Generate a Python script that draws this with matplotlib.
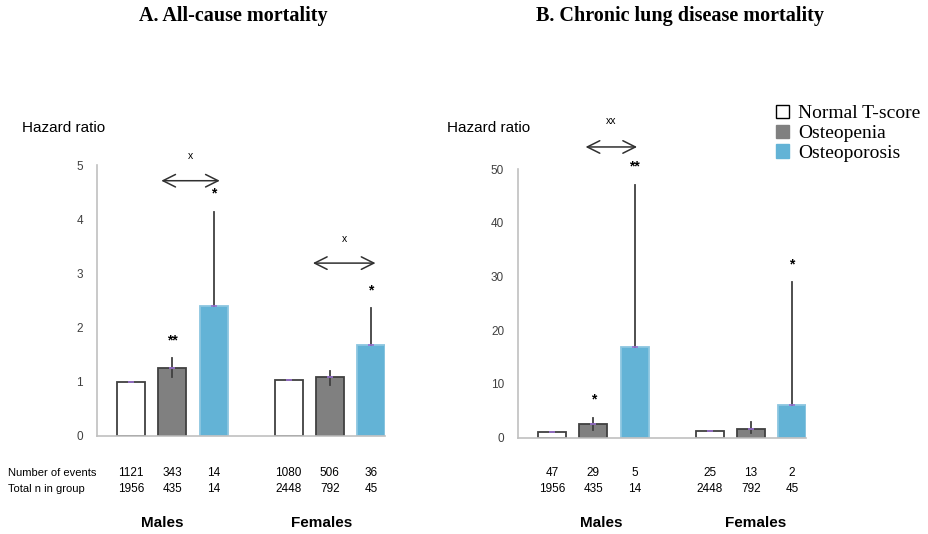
import matplotlib
matplotlib.use("Agg")
import matplotlib.pyplot as plt
from matplotlib.patches import Patch
import numpy as np

plt.rcParams['font.family'] = ['Liberation Sans', 'DejaVu Sans']

# ---------------- data ----------------
categories = ["Normal T-score", "Osteopenia", "Osteoporosis"]
groups = ["Males", "Females"]

# Panel A: all-cause mortality (males then females)
hr_a = [1.0, 1.26, 2.39, 1.03, 1.08, 1.67]
ci_low_a = [1.0, 1.09, 2.39, 1.03, 0.94, 1.67]
ci_high_a = [1.0, 1.44, 4.14, 1.03, 1.20, 2.36]
events_a = ["1121", "343", "14", "1080", "506", "36"]
totals_a = ["1956", "435", "14", "2448", "792", "45"]
stars_a = ["", "**", "*", "", "", "*"]

# Panel B: chronic lung disease mortality
hr_b = [1.1, 2.5, 16.8, 1.3, 1.7, 6.0]
ci_low_b = [1.1, 1.4, 16.8, 1.3, 0.9, 6.0]
ci_high_b = [1.1, 3.7, 47.0, 1.3, 3.0, 28.9]
events_b = ["47", "29", "5", "25", "13", "2"]
totals_b = ["1956", "435", "14", "2448", "792", "45"]
stars_b = ["", "*", "**", "", "", "*"]

colors = ["#ffffff", "#808080", "#63b3d6"]
edges = ["#404040", "#404040", "#8cc6e0"]

group_offset = 3.82
bar_w = 0.68

fig = plt.figure(figsize=(9.29, 5.34), dpi=100)
W, H = 929, 534


def px_axes(left, right, bottom_px, top_px):
    return fig.add_axes([left / W, 1 - bottom_px / H, (right - left) / W,
                         (bottom_px - top_px) / H])


def draw_panel(ax, hr, lo, hi, stars, ymax, yticks, star_off, events, totals,
               arrows, males_x, females_x):
    xs = []
    for g in range(2):
        for c in range(3):
            xs.append(c + g * group_offset)
    xs = np.array(xs)
    hr = np.array(hr)
    lo = np.array(lo)
    hi = np.array(hi)
    for i, x in enumerate(xs):
        c = i % 3
        ax.bar(x, hr[i], width=bar_w, color=colors[c], edgecolor=edges[c],
               linewidth=1.3, zorder=2)
    # error bars (only where an interval is drawn)
    for i, x in enumerate(xs):
        if hi[i] > hr[i]:
            ax.plot([x, x], [hr[i], hi[i]], color="#404040", lw=1.3, zorder=3)
        if lo[i] < hr[i]:
            ax.plot([x, x], [lo[i], hr[i]], color="#404040", lw=1.3, zorder=3)
    ax.plot(xs, hr, ls="none", marker="_", ms=5, mew=1.2, color="#9a6fd0",
            zorder=4)
    for i, x in enumerate(xs):
        if stars[i]:
            top = max(hi[i], hr[i])
            ax.text(x, top + star_off, stars[i], ha="center", va="center",
                    fontsize=10, fontweight="bold", clip_on=False)
    for (x0, x1, y, lab, ly) in arrows:
        ax.annotate("", xy=(x1, y), xytext=(x0, y),
                    arrowprops=dict(arrowstyle="<->,head_length=0.9,head_width=0.45",
                                    color="#303030", lw=1.1, shrinkA=0,
                                    shrinkB=0, mutation_scale=10),
                    annotation_clip=False)
        ax.text((x0 + x1) / 2, ly, lab, ha="center", va="center", fontsize=7.5,
                clip_on=False)

    ax.set_xlim(-0.83, 6.16)
    ax.set_ylim(0, ymax)
    ax.set_yticks(yticks)
    ax.set_xticks([])
    for s in ["top", "right"]:
        ax.spines[s].set_visible(False)
    for s in ["left", "bottom"]:
        ax.spines[s].set_color("#c0c0c0")
        ax.spines[s].set_linewidth(1.2)
    ax.tick_params(axis="y", length=0, pad=10, labelsize=8.5,
                   labelcolor="#404040")

    trans = matplotlib.transforms.blended_transform_factory(ax.transData,
                                                           fig.transFigure)
    for i, x in enumerate(xs):
        ax.text(x, 1 - 473 / H, events[i], ha="center", va="center",
                fontsize=8.5, transform=trans)
        ax.text(x, 1 - 489 / H, totals[i], ha="center", va="center",
                fontsize=8.5, transform=trans)
    ax.text(males_x / W, 1 - 523 / H, groups[0], ha="center", va="center",
            fontsize=11, fontweight="bold", transform=fig.transFigure)
    ax.text(females_x / W, 1 - 523 / H, groups[1], ha="center", va="center",
            fontsize=11, fontweight="bold", transform=fig.transFigure)


axA = px_axes(97, 385, 436, 165)
draw_panel(axA, hr_a, ci_low_a, ci_high_a, stars_a, 5, [0, 1, 2, 3, 4, 5],
           0.33, events_a, totals_a,
           [(0.73, 2.15, 4.71, "x", 5.17), (4.41, 5.93, 3.19, "x", 3.63)],
           162, 322)
axB = px_axes(518, 806, 437.7, 169)
draw_panel(axB, hr_b, ci_low_b, ci_high_b, stars_b, 50,
           [0, 10, 20, 30, 40, 50], 3.4, events_b, totals_b,
           [(0.81, 2.06, 54.1, "xx", 59.0)], 601, 756)

fig.text(8 / W, 1 - 473 / H, "Number of events", ha="left", va="center",
         fontsize=8)
fig.text(8 / W, 1 - 489 / H, "Total n in group", ha="left", va="center",
         fontsize=8)

fig.text(22 / W, 1 - 128 / H, "Hazard ratio", ha="left", va="center",
         fontsize=11)
fig.text(447 / W, 1 - 128 / H, "Hazard ratio", ha="left", va="center",
         fontsize=11)

fig.text(233 / W, 1 - 16 / H, "A. All-cause mortality", ha="center",
         va="center", fontsize=14.5, fontweight="bold",
         family=["Liberation Serif", "DejaVu Serif"])
fig.text(680 / W, 1 - 16 / H, "B. Chronic lung disease mortality",
         ha="center", va="center", fontsize=14.5, fontweight="bold",
         family=["Liberation Serif", "DejaVu Serif"])

handles = [Patch(facecolor=colors[0], edgecolor="#000000", lw=1.0),
           Patch(facecolor=colors[1], edgecolor=colors[1]),
           Patch(facecolor=colors[2], edgecolor=colors[2])]
fig.legend(handles, categories, loc="upper left",
           bbox_to_anchor=(762 / W, 1 - 91 / H), frameon=False,
           prop={"family": ["Liberation Serif", "DejaVu Serif"], "size": 14},
           handlelength=0.7, handleheight=0.7, handletextpad=0.45,
           labelspacing=0.12, borderpad=0.2)

fig.savefig("out.png", dpi=100)
